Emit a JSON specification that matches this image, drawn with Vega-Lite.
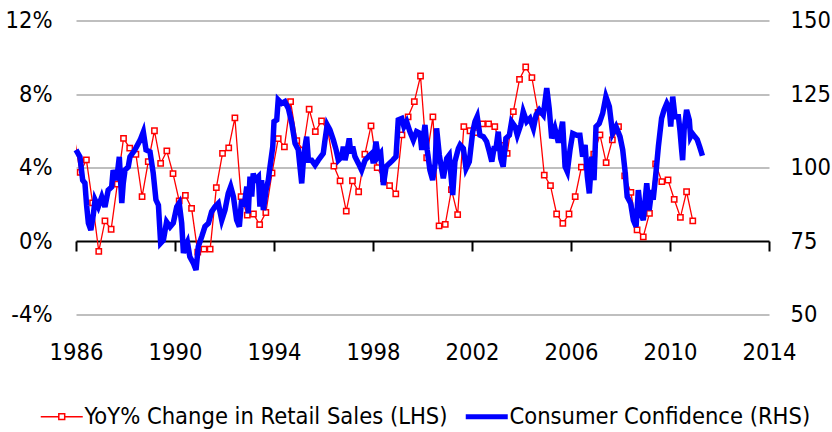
{
"$schema": "https://vega.github.io/schema/vega-lite/v6.json",
"width": 693, "height": 294,
"autosize": {"type": "none"},
"padding": {"left": 76, "top": 20.5, "right": 63, "bottom": 117.5},
"background": "white",
"config": {"view": {"stroke": null}, "font": "DejaVu Sans Condensed, sans-serif",
  "axis": {"labelFont": "DejaVu Sans Condensed, sans-serif", "labelFontSize": 23.5, "labelColor": "#000000", "title": null},
  "legend": {"labelFont": "DejaVu Sans Condensed, sans-serif", "labelFontSize": 23.5, "labelColor": "#000000"}},
"datasets": {
"retail": [
{"t":1985.92,"v":5.7},{"t":1986.17,"v":3.73},{"t":1986.42,"v":4.41},{"t":1986.67,"v":2.07},{"t":1986.92,"v":-0.57},
{"t":1987.17,"v":1.09},{"t":1987.42,"v":0.64},{"t":1987.67,"v":3.1},{"t":1987.92,"v":5.58},
{"t":1988.17,"v":5.05},{"t":1988.42,"v":4.72},{"t":1988.67,"v":2.41},{"t":1988.92,"v":4.32},
{"t":1989.17,"v":6.0},{"t":1989.42,"v":4.22},{"t":1989.67,"v":4.9},{"t":1989.92,"v":3.67},
{"t":1990.17,"v":2.18},{"t":1990.42,"v":2.48},{"t":1990.67,"v":1.78},{"t":1990.92,"v":-0.61},
{"t":1991.17,"v":-0.44},{"t":1991.42,"v":-0.44},{"t":1991.67,"v":2.9},{"t":1991.92,"v":4.77},
{"t":1992.17,"v":5.07},{"t":1992.42,"v":6.7},{"t":1992.67,"v":2.41},{"t":1992.92,"v":1.41},
{"t":1993.17,"v":1.47},{"t":1993.42,"v":0.89},{"t":1993.67,"v":1.55},{"t":1993.92,"v":3.7},
{"t":1994.17,"v":5.57},{"t":1994.42,"v":5.12},{"t":1994.67,"v":7.59},{"t":1994.92,"v":5.46},
{"t":1995.17,"v":4.95},{"t":1995.42,"v":7.17},{"t":1995.67,"v":5.95},{"t":1995.92,"v":6.53},
{"t":1996.17,"v":6.04},{"t":1996.42,"v":4.08},{"t":1996.67,"v":3.27},{"t":1996.92,"v":1.63},
{"t":1997.17,"v":3.28},{"t":1997.42,"v":2.68},{"t":1997.67,"v":4.72},{"t":1997.92,"v":6.27},
{"t":1998.17,"v":3.99},{"t":1998.42,"v":3.4},{"t":1998.67,"v":3.01},{"t":1998.92,"v":2.57},
{"t":1999.17,"v":5.77},{"t":1999.42,"v":6.76},{"t":1999.67,"v":7.58},{"t":1999.92,"v":8.98},
{"t":2000.17,"v":4.53},{"t":2000.42,"v":6.76},{"t":2000.67,"v":0.82},{"t":2000.92,"v":0.91},
{"t":2001.17,"v":2.8},{"t":2001.42,"v":1.43},{"t":2001.67,"v":6.22},{"t":2001.92,"v":6.0},
{"t":2002.17,"v":5.9},{"t":2002.42,"v":6.37},{"t":2002.67,"v":6.37},{"t":2002.92,"v":6.22},
{"t":2003.17,"v":5.2},{"t":2003.42,"v":4.77},{"t":2003.67,"v":7.04},{"t":2003.92,"v":8.8},
{"t":2004.17,"v":9.47},{"t":2004.42,"v":8.89},{"t":2004.67,"v":7.0},{"t":2004.92,"v":3.59},
{"t":2005.17,"v":3.01},{"t":2005.42,"v":1.47},{"t":2005.67,"v":0.96},{"t":2005.92,"v":1.47},
{"t":2006.17,"v":2.41},{"t":2006.42,"v":4.02},{"t":2006.67,"v":4.3},{"t":2006.92,"v":4.73},
{"t":2007.17,"v":5.77},{"t":2007.42,"v":4.26},{"t":2007.67,"v":5.5},{"t":2007.92,"v":6.22},
{"t":2008.17,"v":3.54},{"t":2008.42,"v":2.65},{"t":2008.67,"v":0.6},{"t":2008.92,"v":0.23},
{"t":2009.17,"v":1.5},{"t":2009.42,"v":4.2},{"t":2009.67,"v":3.23},{"t":2009.92,"v":3.32},
{"t":2010.17,"v":2.27},{"t":2010.42,"v":1.29},{"t":2010.67,"v":2.68},{"t":2010.92,"v":1.1}
],
"cc": [
{"t":1986.0,"v":106.0},{"t":1986.08,"v":104.8},{"t":1986.16,"v":103.6},{"t":1986.27,"v":95.7},{"t":1986.36,"v":94.7},{"t":1986.43,"v":87},{"t":1986.5,"v":81.1},{"t":1986.6,"v":78.7},{"t":1986.7,"v":84},{"t":1986.77,"v":89.0},{"t":1986.9,"v":86.6},
{"t":1987.04,"v":90.0},{"t":1987.17,"v":86.6},{"t":1987.3,"v":92.3},{"t":1987.44,"v":93.4},{"t":1987.5,"v":99.1},{"t":1987.64,"v":95.7},{"t":1987.75,"v":103.6},{"t":1987.85,"v":87.9},{"t":1987.91,"v":94.7},{"t":1987.98,"v":99.1},
{"t":1988.11,"v":100.2},{"t":1988.18,"v":103.6},{"t":1988.38,"v":106.0},{"t":1988.59,"v":109.3},{"t":1988.72,"v":112.1},{"t":1988.83,"v":106.0},{"t":1988.99,"v":105.3},
{"t":1989.12,"v":98.1},{"t":1989.23,"v":89.0},{"t":1989.33,"v":87.2},{"t":1989.42,"v":74.3},{"t":1989.53,"v":75.3},{"t":1989.66,"v":81.5},{"t":1989.8,"v":79.8},{"t":1989.93,"v":81.1},
{"t":1990.07,"v":86.6},{"t":1990.17,"v":87.9},{"t":1990.27,"v":81.1},{"t":1990.34,"v":70.9},{"t":1990.4,"v":73.0},{"t":1990.5,"v":74.7},{"t":1990.6,"v":69.6},{"t":1990.74,"v":67.5},{"t":1990.85,"v":65.1},{"t":1990.94,"v":73.1},
{"t":1991.08,"v":76.5},{"t":1991.21,"v":79.9},{"t":1991.35,"v":81.0},{"t":1991.48,"v":85.0},{"t":1991.62,"v":86.7},{"t":1991.75,"v":87.8},{"t":1991.89,"v":82.1},
{"t":1992.02,"v":85.5},{"t":1992.15,"v":91.2},{"t":1992.25,"v":93.5},{"t":1992.36,"v":90.1},{"t":1992.49,"v":82.1},{"t":1992.6,"v":79.9},{"t":1992.69,"v":89.0},{"t":1992.79,"v":86.7},{"t":1992.9,"v":93.5},{"t":1992.96,"v":84.4},
{"t":1993.03,"v":96.9},{"t":1993.1,"v":90.1},{"t":1993.16,"v":98.0},{"t":1993.23,"v":95.7},{"t":1993.37,"v":96.9},{"t":1993.43,"v":86.7},{"t":1993.5,"v":95.7},{"t":1993.57,"v":85.5},{"t":1993.68,"v":92.3},{"t":1993.77,"v":95.7},{"t":1993.84,"v":100.3},{"t":1993.95,"v":107.1},
{"t":1994.0,"v":115.6},{"t":1994.11,"v":116.2},{"t":1994.17,"v":123.0},{"t":1994.31,"v":121.8},{"t":1994.44,"v":122.4},{"t":1994.58,"v":120.1},{"t":1994.72,"v":115.0},{"t":1994.85,"v":108.2},{"t":1994.98,"v":106.0},
{"t":1995.12,"v":94.6},{"t":1995.21,"v":104.8},{"t":1995.32,"v":110.5},{"t":1995.39,"v":102.5},{"t":1995.52,"v":102.5},{"t":1995.66,"v":100.8},{"t":1995.79,"v":102.5},{"t":1995.99,"v":104.8},
{"t":1996.06,"v":109.3},{"t":1996.15,"v":114.5},{"t":1996.26,"v":112.8},{"t":1996.4,"v":109.3},{"t":1996.51,"v":106.0},{"t":1996.6,"v":102.5},{"t":1996.74,"v":103.7},{"t":1996.8,"v":107.1},{"t":1996.87,"v":102.5},{"t":1996.96,"v":106.0},
{"t":1997.04,"v":109.9},{"t":1997.1,"v":104.8},{"t":1997.18,"v":107.1},{"t":1997.27,"v":103.7},{"t":1997.41,"v":101.4},{"t":1997.54,"v":99.1},{"t":1997.68,"v":102.5},{"t":1997.81,"v":103.7},{"t":1997.95,"v":104.8},
{"t":1998.01,"v":101.4},{"t":1998.12,"v":108.8},{"t":1998.21,"v":103.7},{"t":1998.31,"v":104.8},{"t":1998.42,"v":94.0},{"t":1998.53,"v":100.3},{"t":1998.66,"v":101.4},{"t":1998.8,"v":102.5},{"t":1998.93,"v":103.7},
{"t":1999.02,"v":116.2},{"t":1999.16,"v":116.7},{"t":1999.25,"v":113.9},{"t":1999.36,"v":115.6},{"t":1999.49,"v":112.2},{"t":1999.63,"v":109.3},{"t":1999.76,"v":112.2},{"t":1999.9,"v":111.6},{"t":1999.97,"v":106.0},
{"t":2000.1,"v":114.5},{"t":2000.19,"v":106.0},{"t":2000.3,"v":99.1},{"t":2000.41,"v":95.7},{"t":2000.51,"v":101.4},{"t":2000.57,"v":113.3},{"t":2000.68,"v":104.2},{"t":2000.84,"v":96.3},{"t":2000.98,"v":103.1},
{"t":2001.08,"v":104.2},{"t":2001.22,"v":90.6},{"t":2001.31,"v":102.0},{"t":2001.45,"v":106.5},{"t":2001.52,"v":107.7},{"t":2001.65,"v":106.5},{"t":2001.76,"v":99.7},{"t":2001.89,"v":102.0},
{"t":2002.03,"v":112.2},{"t":2002.12,"v":115.6},{"t":2002.21,"v":117.3},{"t":2002.32,"v":111.0},{"t":2002.46,"v":110.5},{"t":2002.59,"v":108.8},{"t":2002.7,"v":105.4},{"t":2002.8,"v":102.0},{"t":2002.89,"v":106.5},{"t":2002.97,"v":106.5},
{"t":2003.06,"v":112.2},{"t":2003.16,"v":103.1},{"t":2003.26,"v":100.3},{"t":2003.37,"v":109.9},{"t":2003.51,"v":111.0},{"t":2003.6,"v":115.6},{"t":2003.74,"v":113.9},{"t":2003.83,"v":111.0},{"t":2003.97,"v":114.5},
{"t":2004.07,"v":119.0},{"t":2004.21,"v":115.6},{"t":2004.34,"v":116.7},{"t":2004.48,"v":113.3},{"t":2004.59,"v":117.9},{"t":2004.72,"v":119.6},{"t":2004.88,"v":117.9},
{"t":2005.02,"v":127.0},{"t":2005.12,"v":120.1},{"t":2005.22,"v":109.9},{"t":2005.35,"v":113.3},{"t":2005.49,"v":108.5},{"t":2005.56,"v":111.0},{"t":2005.66,"v":115.6},{"t":2005.76,"v":100.3},{"t":2005.85,"v":98.6},{"t":2005.96,"v":106.0},
{"t":2006.07,"v":111.6},{"t":2006.23,"v":111.0},{"t":2006.36,"v":111.0},{"t":2006.47,"v":103.7},{"t":2006.57,"v":107.7},{"t":2006.66,"v":96.9},{"t":2006.74,"v":91.2},{"t":2006.84,"v":103.7},{"t":2006.93,"v":95.7},
{"t":2007.01,"v":113.9},{"t":2007.14,"v":115.0},{"t":2007.28,"v":118.4},{"t":2007.41,"v":124.1},{"t":2007.55,"v":120.7},{"t":2007.68,"v":111.6},{"t":2007.82,"v":113.9},{"t":2007.98,"v":110.5},
{"t":2008.09,"v":106.0},{"t":2008.18,"v":99.1},{"t":2008.27,"v":90.1},{"t":2008.41,"v":87.8},{"t":2008.52,"v":82.1},{"t":2008.63,"v":79.9},{"t":2008.72,"v":92.3},{"t":2008.82,"v":84.4},{"t":2008.92,"v":82.1},
{"t":2009.06,"v":94.6},{"t":2009.16,"v":85.5},{"t":2009.26,"v":92.3},{"t":2009.32,"v":89.0},{"t":2009.43,"v":98.0},{"t":2009.53,"v":107.1},{"t":2009.66,"v":116.7},{"t":2009.76,"v":119.6},{"t":2009.87,"v":121.8},{"t":2009.97,"v":120.1},
{"t":2010.03,"v":113.9},{"t":2010.11,"v":124.1},{"t":2010.2,"v":117.3},{"t":2010.34,"v":117.3},{"t":2010.4,"v":112.8},{"t":2010.47,"v":106.0},{"t":2010.51,"v":102.5},{"t":2010.57,"v":112.8},{"t":2010.67,"v":119.6},{"t":2010.78,"v":116.2},{"t":2010.83,"v":110.5},{"t":2010.9,"v":111.6},
{"t":2011.0,"v":110.5},{"t":2011.1,"v":109.5},{"t":2011.2,"v":107.0},{"t":2011.31,"v":104.0}
]
},
"encoding": {
  "x": {"field": "t", "type": "quantitative",
    "scale": {"domain": [1986, 2014], "nice": false, "zero": false},
    "axis": {"values": [1986, 1990, 1994, 1998, 2002, 2006, 2010, 2014], "format": "d", "offset": -73.5,
      "grid": false, "domain": true, "domainColor": "#000000", "domainWidth": 2, "ticks": true, "tickColor": "#000000", "tickWidth": 2, "tickSize": 10,
      "labelPadding": 89, "labelFlush": false, "labelBaseline": "top"}}
},
"layer": [
  {"data": {"name": "retail"},
   "encoding": {
     "y": {"field": "v", "type": "quantitative", "scale": {"domain": [-4, 12], "nice": false, "zero": false},
       "axis": {"orient": "left", "values": [-4, 0, 4, 8, 12], "labelExpr": "datum.value + '%'", "domain": false, "ticks": false, "tickSize": 0, "labelPadding": 24,
         "grid": true, "gridColor": {"condition": {"test": "datum.value === 0", "value": "transparent"}, "value": "#BFBFBF"}, "gridWidth": 2}},
     "color": {"datum": "YoY% Change in Retail Sales (LHS)", "type": "nominal",
       "scale": {"domain": ["YoY% Change in Retail Sales (LHS)", "Consumer Confidence (RHS)"], "range": ["#FF0000", "#0000FF"]},
       "legend": {"title": null, "orient": "none", "legendX": -26, "legendY": 384, "direction": "horizontal",
         "symbolSize": 1764, "symbolStrokeWidth": 1.5, "labelOffset": 11, "columnPadding": 7, "labelLimit": 600,
         "encode": {"symbols": {"update": {
           "shape": {"signal": "datum.value === 'Consumer Confidence (RHS)' ? 'M-1,0H1' : 'M-1,0H-0.15M0.15,0H1M-0.14,-0.14H0.14V0.14H-0.14Z'"},
           "strokeWidth": {"signal": "datum.value === 'Consumer Confidence (RHS)' ? 5 : 1.5"},
           "stroke": {"signal": "datum.value === 'Consumer Confidence (RHS)' ? '#0000FF' : '#FF0000'"},
           "fill": {"value": "#FFFFFF"},
           "opacity": {"value": 1}}}}}}
   },
   "layer": [
     {"mark": {"type": "line", "strokeWidth": 1.3, "clip": true}},
     {"transform": [{"filter": "datum.t >= 1986"}],
      "mark": {"type": "point", "shape": "square", "filled": false, "fill": "#FFFFFF", "size": 28, "strokeWidth": 1.5, "opacity": 1}}
   ]},
  {"data": {"name": "cc"},
   "mark": {"type": "line", "strokeWidth": 5.5},
   "encoding": {
     "y": {"field": "v", "type": "quantitative", "scale": {"domain": [50, 150], "nice": false, "zero": false},
       "axis": {"orient": "right", "values": [50, 75, 100, 125, 150], "domain": false, "ticks": false, "tickSize": 0, "labelPadding": 21, "grid": false}},
     "color": {"datum": "Consumer Confidence (RHS)", "type": "nominal"}
   }}
],
"resolve": {"scale": {"y": "independent"}}
}
